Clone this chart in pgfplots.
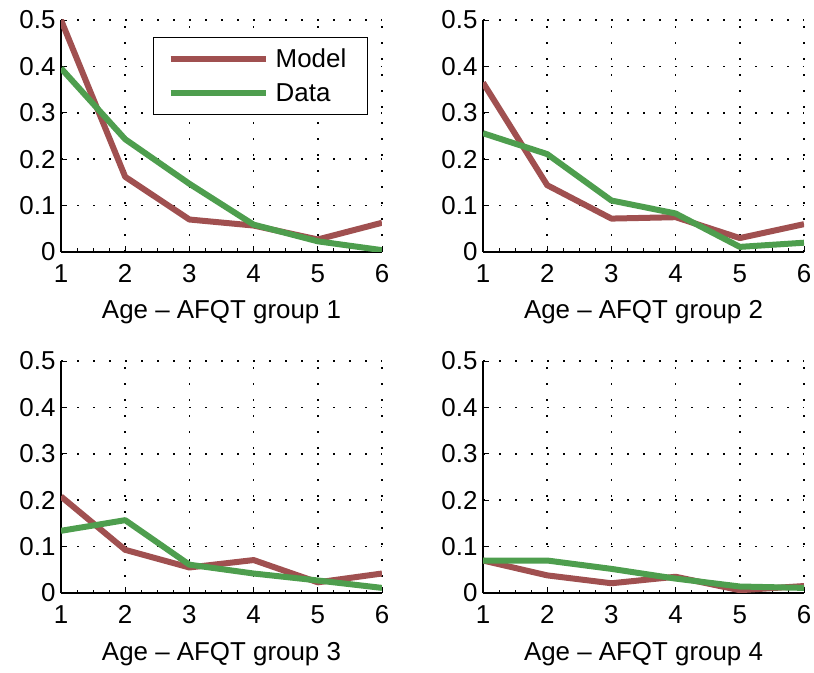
\documentclass[border=0pt]{standalone}
\usepackage{fontspec}
\setmainfont{Liberation Sans}
\usepackage{pgfplots}
\pgfplotsset{compat=1.18}
\definecolor{modelc}{RGB}{160,80,80}
\definecolor{datac}{RGB}{78,158,78}
\pgfplotsset{
  myax/.style={
    scale only axis, width=321bp, height=232bp,
    xmin=1, xmax=6, ymin=0, ymax=0.5,
    xtick={1,2,3,4,5,6}, ytick={0,0.1,0.2,0.3,0.4,0.5},
    minor x tick num=3,
    axis x line*=bottom, axis y line*=left,
    axis line style={line width=1.2bp, black},
    tick align=inside,
    major tick length=6bp, minor tick length=3.5bp,
    every tick/.style={black, line width=0.8bp},
    grid=major,
    major grid style={black, line width=1.5bp, dash pattern=on 1.5bp off 14.5bp},
    font=\fontsize{26}{30}\selectfont,
    /pgf/number format/assume math mode=true,
    yticklabel style={/pgf/number format/fixed, /pgf/number format/precision=1},
    xticklabel shift=9bp, yticklabel shift=2bp,
    xlabel style={at={(axis description cs:0.5,0)}, anchor=base, yshift=-67bp},
    every axis plot/.append style={line width=6bp, line join=round},
    clip=true,
  },
}
\begin{document}
\begin{tikzpicture}
\useasboundingbox (0,0) rectangle (814bp,673bp);
% top left
\begin{axis}[myax, at={(61bp,421bp)}, anchor=south west,
  xlabel={Age – AFQT group 1},
  legend style={at={(0.287,0.927)}, anchor=north west, draw=black, line width=1.2bp,
    font=\fontsize{26}{30}\selectfont, inner xsep=14bp, inner ysep=9bp,
    row sep=11bp, nodes={inner xsep=7bp, inner ysep=2bp}},
  legend cell align=left,
  legend image code/.code={\draw[#1] (0bp,0bp) -- (95bp,0bp);},
]
\addplot[modelc] coordinates {(1,0.50) (2,0.162) (3,0.070) (4,0.057) (5,0.027) (6,0.063)};
\addplot[datac] coordinates {(1,0.396) (2,0.243) (3,0.147) (4,0.059) (5,0.023) (6,0.004)};
\legend{Model\hspace{12bp}, Data\rule[-8bp]{0pt}{1bp}}
\end{axis}
% top right
\begin{axis}[myax, at={(483bp,421bp)}, anchor=south west,
  xlabel={Age – AFQT group 2}]
\addplot[modelc] coordinates {(1,0.365) (2,0.144) (3,0.072) (4,0.075) (5,0.030) (6,0.060)};
\addplot[datac] coordinates {(1,0.256) (2,0.211) (3,0.111) (4,0.083) (5,0.011) (6,0.020)};
\end{axis}
% bottom left
\begin{axis}[myax, at={(61bp,80bp)}, anchor=south west,
  xlabel={Age – AFQT group 3}]
\addplot[modelc] coordinates {(1,0.208) (2,0.093) (3,0.055) (4,0.071) (5,0.023) (6,0.042)};
\addplot[datac] coordinates {(1,0.134) (2,0.157) (3,0.061) (4,0.042) (5,0.027) (6,0.011)};
\end{axis}
% bottom right
\begin{axis}[myax, at={(483bp,80bp)}, anchor=south west,
  xlabel={Age – AFQT group 4}]
\addplot[modelc] coordinates {(1,0.070) (2,0.038) (3,0.021) (4,0.035) (5,0.006) (6,0.015)};
\addplot[datac] coordinates {(1,0.070) (2,0.070) (3,0.052) (4,0.031) (5,0.014) (6,0.011)};
\end{axis}
\end{tikzpicture}
\end{document}
